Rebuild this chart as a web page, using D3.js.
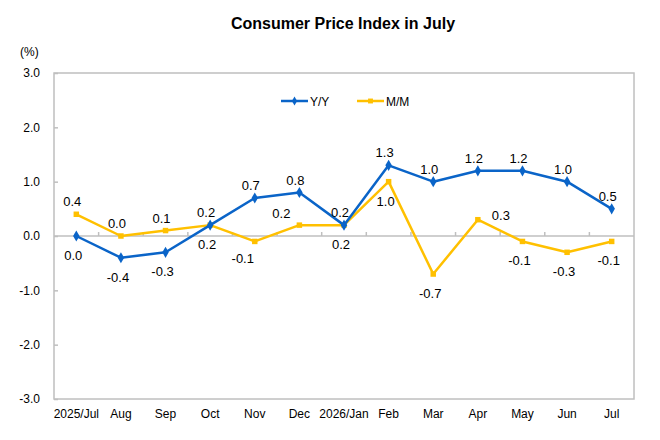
<!DOCTYPE html>
<html>
<head>
<meta charset="utf-8">
<script src="https://cdn.jsdelivr.net/npm/d3@7"></script>
<style>
  body { margin: 0; background: #fff; }
  svg { font-family: "Liberation Sans", Arial, sans-serif; }
</style>
</head>
<body>
<svg width="660" height="440"></svg>
<script>
// data
const months = ["2025/Jul", "Aug", "Sep", "Oct", "Nov", "Dec", "2026/Jan",
  "Feb", "Mar", "Apr", "May", "Jun", "Jul"];
const yoy = [0.0, -0.4, -0.3, 0.2, 0.7, 0.8, 0.2, 1.3, 1.0, 1.2, 1.2, 1.0, 0.5];
const mom = [0.4, 0.0, 0.1, 0.2, -0.1, 0.2, 0.2, 1.0, -0.7, 0.3, -0.1, -0.3, -0.1];
const yTicks = [-3, -2, -1, 0, 1, 2, 3];
// where each value label sits: a = above, b = below, r = right, l = further left
const yoyPlace = ["b", "b", "b", "b", "a", "a", "a", "a", "a", "a", "a", "a", "a"];
const momPlace = ["a", "a", "a", "a", "bl", "al", "b", "b", "b", "r", "b", "b", "b"];

const svg = d3.select("svg"),
  margin = { top: 73, right: 26, bottom: 41, left: 54 },
  width = +svg.attr("width") - margin.left - margin.right,
  height = +svg.attr("height") - margin.top - margin.bottom;

const blue = "#0a64c8", yellow = "#ffc000", grey = "#bfbfbf";
const fmt = d3.formatLocale({ decimal: ".", thousands: ",", grouping: [3],
  currency: ["", ""], minus: "-" }).format(".1f");

const x = d3.scaleBand().domain(months).range([0, width]).padding(0),
  y = d3.scaleLinear().domain([-3, 3]).range([height, 0]);

svg.append("text")
  .attr("x", 343).attr("y", 29)
  .attr("text-anchor", "middle")
  .attr("font-size", 16).attr("font-weight", "bold")
  .text("Consumer Price Index in July");

svg.append("text")
  .attr("x", 20).attr("y", 56)
  .attr("font-size", 12)
  .text("(%)");

const g = svg.append("g")
  .attr("transform", `translate(${margin.left},${margin.top})`);

// frame
g.append("rect")
  .attr("width", width).attr("height", height)
  .attr("fill", "none").attr("stroke", grey).attr("stroke-width", 1.5);

// y axis
const yAxis = g.append("g")
  .call(d3.axisLeft(y).tickValues(yTicks).tickFormat(fmt)
    .tickSize(-4).tickPadding(14));
yAxis.select(".domain").remove();
yAxis.selectAll(".tick line").attr("stroke", grey).attr("stroke-width", 1.5);
yAxis.selectAll(".tick text").attr("font-size", 12).attr("fill", "#000")
  .attr("font-family", "Liberation Sans, Arial, sans-serif");

// zero line with ticks between categories
g.append("line")
  .attr("x1", 0).attr("x2", width)
  .attr("y1", y(0)).attr("y2", y(0))
  .attr("stroke", grey).attr("stroke-width", 1.5);
g.append("g")
  .selectAll("line")
  .data(months.slice(1))
  .enter()
  .append("line")
  .attr("x1", (d) => x(d)).attr("x2", (d) => x(d))
  .attr("y1", y(0)).attr("y2", y(0) - 4)
  .attr("stroke", grey).attr("stroke-width", 1.5);

// x labels at the bottom
g.append("g")
  .selectAll("text")
  .data(months)
  .enter()
  .append("text")
  .attr("x", (d) => x(d) + x.bandwidth() / 2)
  .attr("y", height + 19)
  .attr("text-anchor", "middle")
  .attr("font-size", 12)
  .text((d) => d);

const cx = (i) => x(months[i]) + x.bandwidth() / 2;
const line = d3.line().x((d, i) => cx(i)).y((d) => y(d));

const offsets = { a: [-4, -8], b: [-3, 24], r: [14, 0], al: [-18, -7], bl: [-12, 22] };

function drawSeries(values, color, marker, places) {
  const s = g.append("g");
  s.append("path")
    .datum(values)
    .attr("fill", "none")
    .attr("stroke", color)
    .attr("stroke-width", 2.5)
    .attr("stroke-linejoin", "round")
    .attr("d", line);
  s.selectAll(".mk")
    .data(values)
    .enter()
    .append("path")
    .attr("class", "mk")
    .attr("transform", (d, i) => `translate(${cx(i)},${y(d)})`)
    .attr("d", d3.symbol().type(marker).size(marker === d3.symbolDiamond ? 36 : 30))
    .attr("fill", color);
  s.selectAll(".lb")
    .data(values)
    .enter()
    .append("text")
    .attr("class", "lb")
    .attr("x", (d, i) => cx(i) + offsets[places[i]][0])
    .attr("y", (d, i) => y(d) + offsets[places[i]][1])
    .attr("text-anchor", (d, i) => (places[i] === "r" ? "start" : "middle"))
    .attr("font-size", 13)
    .text((d) => fmt(d));
}

drawSeries(mom, yellow, d3.symbolSquare, momPlace);
drawSeries(yoy, blue, d3.symbolDiamond, yoyPlace);

// legend
const legend = [
  { name: "Y/Y", color: blue, marker: d3.symbolDiamond, x: 281 },
  { name: "M/M", color: yellow, marker: d3.symbolSquare, x: 357 }
];
const lg = svg.append("g")
  .selectAll("g")
  .data(legend)
  .enter()
  .append("g")
  .attr("transform", (d) => `translate(${d.x},101)`);
lg.append("line")
  .attr("x1", 0).attr("x2", 27)
  .attr("stroke", (d) => d.color).attr("stroke-width", 2.5);
lg.append("path")
  .attr("transform", "translate(13.5,0)")
  .attr("d", (d) => d3.symbol().type(d.marker).size(24)())
  .attr("fill", (d) => d.color);
lg.append("text")
  .attr("x", 29).attr("y", 4.5)
  .attr("font-size", 12)
  .text((d) => d.name);
</script>
</body>
</html>
